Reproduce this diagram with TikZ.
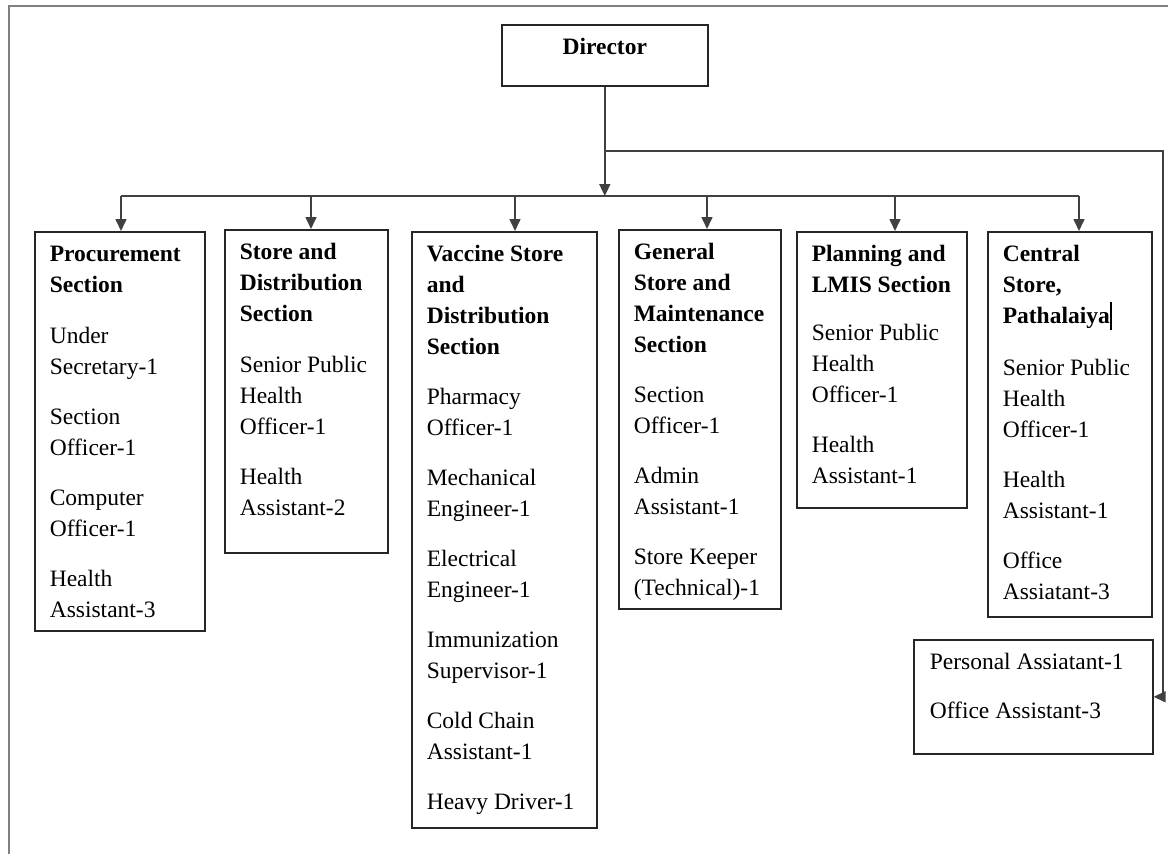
\documentclass[tikz,border=0pt]{standalone}
\usepackage{fontspec}
\setmainfont{Liberation Serif}
\usetikzlibrary{arrows.meta}
% fixed-size cell, text from the top, first baseline 30pt down
\newcommand{\orgcell}[3]{\begin{minipage}[t][#2][t]{#1}\raggedright\rule{0pt}{30pt}#3\end{minipage}}

\begin{document}
\begin{tikzpicture}[x=1pt, y=-1pt, >={Triangle[length=12pt,width=11pt]},
    every node/.style={font=\fontsize{23.5}{31}\selectfont},
    secbox/.style={draw=black!85, line width=1.6pt, inner xsep=15pt, inner ysep=0pt, anchor=north west},
    link/.style={draw=black!75, line width=1.6pt}]
\useasboundingbox (0,0) rectangle (1168,854);
\draw[gray, line width=1.2pt] (9,854) -- (9,6) -- (1168,6);

\node[secbox, inner xsep=0pt] (dir) at (501,24) {\orgcell{206pt}{61pt}{\centering\textbf{Director}}};

\node[secbox] (proc) at (34,231) {\orgcell{140pt}{399pt}{%
  \textbf{Procurement}\\ \textbf{Section}\\[20pt]
  Under\\ Secretary-1\\[19pt]
  Section\\ Officer-1\\[19pt]
  Computer\\ Officer-1\\[19pt]
  Health\\ Assistant-3}};
\node[secbox] (stdist) at (224,229) {\orgcell{133pt}{323pt}{%
  \textbf{Store and}\\ \textbf{Distribution}\\ \textbf{Section}\\[20pt]
  Senior Public\\ Health\\ Officer-1\\[19pt]
  Health\\ Assistant-2}};
\node[secbox] (vacc) at (411,231) {\orgcell{155pt}{596pt}{%
  \textbf{Vaccine Store}\\ \textbf{and}\\ \textbf{Distribution}\\ \textbf{Section}\\[19pt]
  Pharmacy\\ Officer-1\\[19pt]
  Mechanical\\ Engineer-1\\[19pt]
  Electrical\\ Engineer-1\\[19pt]
  Immunization\\ Supervisor-1\\[19pt]
  Cold Chain\\ Assistant-1\\[19pt]
  Heavy Driver-1}};
\node[secbox] (gen) at (618,229) {\orgcell{132pt}{379pt}{%
  \textbf{General}\\ \textbf{Store and}\\ \textbf{Maintenance}\\ \textbf{Section}\\[19pt]
  Section\\ Officer-1\\[19pt]
  Admin\\ Assistant-1\\[19pt]
  Store Keeper\\ (Technical)-1}};
\node[secbox] (plan) at (796,231) {\orgcell{140pt}{276pt}{%
  \textbf{Planning and}\\ \textbf{LMIS Section}\\[17pt]
  Senior Public\\ Health\\ Officer-1\\[19pt]
  Health\\ Assistant-1}};
\node[secbox] (cent) at (987,231) {\orgcell{134pt}{385pt}{%
  \textbf{Central}\\ \textbf{Store,}\\ \textbf{Pathalaiya}\rule[-6pt]{2pt}{28pt}\\[21pt]
  Senior Public\\ Health\\ Officer-1\\[19pt]
  Health\\ Assistant-1\\[19pt]
  Office\\ Assiatant-3}};
\node[secbox, inner xsep=16pt] (pers) at (913,639) {\orgcell{207pt}{114pt}{%
  Personal Assiatant-1\\[18pt]
  Office Assistant-3}};

% bus under the director
\coordinate (busL) at (121,196);
\coordinate (busR) at (1079,196);
\coordinate (br) at (605,151);
\coordinate (rc) at (1163,151);
\draw[link, ->] (dir.south) -- (dir.south |- busL);
\draw[link] (busL) -- (busR);
\foreach \n/\x in {proc/121, stdist/311, vacc/515, gen/707, plan/895, cent/1079}{
  \coordinate (d-\n) at (\x,196);
  \draw[link, ->] (d-\n) -- (d-\n |- \n.north);
}
\draw[link, ->] (br) -- (rc) |- (pers.east);
\end{tikzpicture}
\end{document}
